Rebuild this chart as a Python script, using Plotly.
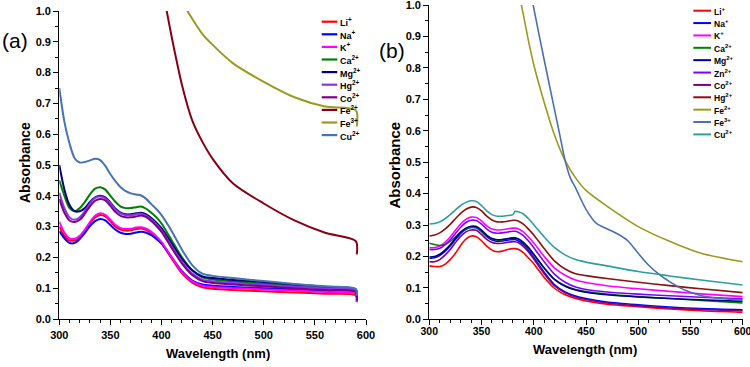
import plotly.graph_objects as go

W, H = 750, 367

# ---------------- Panel (a) data ----------------
WL_A = [300, 305, 310, 315, 320, 325, 330, 335, 340, 345, 350, 355, 360, 365, 370, 375, 380, 385, 390, 395, 400,
        410, 420, 430, 440, 450, 470, 500, 530, 560, 590, 591]
LI_A = [0.30, 0.27, 0.255, 0.255, 0.265, 0.285, 0.31, 0.33, 0.338, 0.333, 0.317, 0.30, 0.29, 0.287, 0.288, 0.292, 0.294, 0.289, 0.279, 0.264, 0.246,
        0.196, 0.148, 0.118, 0.103, 0.098, 0.094, 0.09, 0.086, 0.082, 0.077, 0.055]
NA_A = [0.285, 0.262, 0.247, 0.247, 0.26, 0.28, 0.302, 0.318, 0.325, 0.32, 0.305, 0.29, 0.28, 0.276, 0.277, 0.281, 0.283, 0.28, 0.272, 0.26, 0.245,
        0.2, 0.155, 0.125, 0.112, 0.108, 0.104, 0.1, 0.096, 0.092, 0.088, 0.06]
K_A = [0.315, 0.28, 0.262, 0.26, 0.27, 0.29, 0.315, 0.335, 0.343, 0.338, 0.322, 0.305, 0.295, 0.292, 0.293, 0.297, 0.298, 0.293, 0.283, 0.268, 0.25,
       0.2, 0.152, 0.122, 0.108, 0.104, 0.1, 0.096, 0.092, 0.088, 0.082, 0.06]
CA_A = [0.45, 0.40, 0.36, 0.35, 0.36, 0.38, 0.405, 0.423, 0.428, 0.42, 0.40, 0.38, 0.365, 0.36, 0.36, 0.363, 0.365, 0.358, 0.345, 0.33, 0.31,
        0.255, 0.2, 0.158, 0.135, 0.128, 0.122, 0.115, 0.108, 0.10, 0.092, 0.07]
MG_A = [0.50, 0.42, 0.37, 0.35, 0.35, 0.36, 0.38, 0.395, 0.40, 0.395, 0.378, 0.358, 0.345, 0.34, 0.34, 0.343, 0.345, 0.34, 0.328, 0.313, 0.295,
        0.245, 0.195, 0.158, 0.138, 0.133, 0.127, 0.12, 0.112, 0.105, 0.096, 0.07]
HG_A = [0.41, 0.36, 0.33, 0.322, 0.33, 0.35, 0.375, 0.393, 0.398, 0.392, 0.375, 0.355, 0.343, 0.337, 0.337, 0.34, 0.342, 0.336, 0.323, 0.307, 0.288,
        0.235, 0.185, 0.148, 0.128, 0.122, 0.117, 0.111, 0.105, 0.099, 0.092, 0.055]
CO_A = [0.39, 0.345, 0.32, 0.315, 0.322, 0.342, 0.366, 0.384, 0.39, 0.385, 0.367, 0.347, 0.335, 0.33, 0.33, 0.333, 0.336, 0.331, 0.318, 0.302, 0.283,
        0.23, 0.18, 0.143, 0.123, 0.117, 0.112, 0.106, 0.10, 0.094, 0.088, 0.06]
CU_A = [0.75, 0.64, 0.57, 0.522, 0.508, 0.51, 0.515, 0.52, 0.516, 0.497, 0.47, 0.447, 0.428, 0.415, 0.408, 0.404, 0.401, 0.39, 0.373, 0.357, 0.337,
        0.285, 0.225, 0.175, 0.147, 0.14, 0.133, 0.123, 0.114, 0.106, 0.098, 0.075]
WL_A_FE2 = [400, 410, 420, 430, 440, 450, 470, 500, 530, 560, 590, 591]
FE2_A = [1.09, 0.915, 0.76, 0.645, 0.575, 0.52, 0.44, 0.375, 0.32, 0.28, 0.253, 0.21]
WL_A_FE3 = [420, 430, 440, 450, 470, 500, 530, 560, 590, 591]
FE3_A = [1.03, 0.975, 0.925, 0.89, 0.83, 0.77, 0.72, 0.69, 0.678, 0.625]

NAMES_A = ["Li<sup>+</sup>", "Na<sup>+</sup>", "K<sup>+</sup>", "Ca<sup>2+</sup>", "Mg<sup>2+</sup>", "Hg<sup>2+</sup>",
           "Co<sup>2+</sup>", "Fe<sup>2+</sup>", "Fe<sup>3+</sup>", "Cu<sup>2+</sup>"]
COLORS_A = ["#FF0000", "#0000FF", "#FF00FF", "#008000", "#000080", "#8B30F0", "#800080", "#880015", "#9A9A1E", "#4573B5"]

# ---------------- Panel (b) data ----------------
WL_B = [300, 305, 310, 315, 320, 325, 330, 335, 340, 345, 350, 355, 360, 365, 370, 375, 380,
        382, 385, 390, 395, 400, 410, 420, 430, 440, 450, 470, 500, 530, 560, 600]
LI_B = [0.17, 0.168, 0.168, 0.175, 0.19, 0.21, 0.235, 0.255, 0.265, 0.263, 0.25, 0.233, 0.22, 0.215, 0.217, 0.222, 0.225,
        0.225, 0.223, 0.212, 0.195, 0.177, 0.133, 0.098, 0.078, 0.066, 0.058, 0.048, 0.04, 0.033, 0.027, 0.022]
NA_B = [0.194, 0.196, 0.203, 0.216, 0.233, 0.254, 0.273, 0.286, 0.292, 0.291, 0.279, 0.263, 0.252, 0.248, 0.249, 0.252, 0.254,
        0.254, 0.25, 0.238, 0.219, 0.197, 0.15, 0.11, 0.087, 0.074, 0.066, 0.055, 0.046, 0.039, 0.034, 0.03]
K_B = [0.228, 0.228, 0.233, 0.245, 0.262, 0.283, 0.303, 0.318, 0.325, 0.324, 0.313, 0.297, 0.287, 0.284, 0.285, 0.288, 0.29,
       0.29, 0.288, 0.278, 0.262, 0.243, 0.2, 0.163, 0.14, 0.125, 0.117, 0.107, 0.097, 0.089, 0.081, 0.072]
CA_B = [0.242, 0.238, 0.235, 0.238, 0.248, 0.262, 0.277, 0.288, 0.293, 0.292, 0.282, 0.266, 0.256, 0.252, 0.253, 0.256, 0.258,
        0.258, 0.255, 0.244, 0.227, 0.206, 0.163, 0.127, 0.107, 0.095, 0.088, 0.08, 0.072, 0.066, 0.06, 0.052]
MG_B = [0.198, 0.2, 0.207, 0.22, 0.237, 0.258, 0.277, 0.29, 0.296, 0.295, 0.284, 0.268, 0.257, 0.253, 0.254, 0.257, 0.259,
        0.259, 0.256, 0.245, 0.228, 0.207, 0.163, 0.126, 0.105, 0.093, 0.086, 0.078, 0.071, 0.066, 0.062, 0.057]
ZN_B = [0.222, 0.222, 0.226, 0.237, 0.253, 0.273, 0.293, 0.308, 0.315, 0.314, 0.303, 0.287, 0.277, 0.274, 0.275, 0.278, 0.28,
        0.28, 0.277, 0.266, 0.249, 0.228, 0.183, 0.143, 0.118, 0.103, 0.095, 0.087, 0.08, 0.075, 0.07, 0.065]
CO_B = [0.183, 0.183, 0.19, 0.204, 0.222, 0.244, 0.264, 0.278, 0.284, 0.283, 0.27, 0.254, 0.244, 0.241, 0.242, 0.245, 0.247,
        0.247, 0.244, 0.232, 0.214, 0.192, 0.145, 0.106, 0.084, 0.071, 0.063, 0.052, 0.043, 0.036, 0.031, 0.027]
HG_B = [0.265, 0.268, 0.275, 0.287, 0.302, 0.32, 0.337, 0.35, 0.357, 0.356, 0.345, 0.328, 0.316, 0.31, 0.31, 0.312, 0.315,
        0.315, 0.313, 0.303, 0.287, 0.268, 0.225, 0.185, 0.16, 0.145, 0.139, 0.13, 0.118, 0.107, 0.097, 0.085]
CU_B = [0.303, 0.305, 0.31, 0.32, 0.333, 0.348, 0.362, 0.372, 0.377, 0.375, 0.362, 0.345, 0.333, 0.328, 0.328, 0.33, 0.333,
        0.343, 0.342, 0.335, 0.32, 0.301, 0.262, 0.228, 0.205, 0.19, 0.182, 0.17, 0.152, 0.138, 0.125, 0.109]
WL_B_FE2 = [385, 390, 395, 400, 410, 420, 430, 440, 450, 470, 500, 530, 560, 600]
FE2_B = [1.05, 0.97, 0.885, 0.81, 0.69, 0.585, 0.505, 0.45, 0.41, 0.36, 0.295, 0.248, 0.21, 0.183]
WL_B_FE3 = [398, 400, 410, 420, 425, 430, 435, 440, 450, 460, 470, 480, 490, 500, 510, 520, 530, 540, 550, 560, 570, 580, 590, 600]
FE3_B = [1.03, 0.99, 0.825, 0.665, 0.585, 0.505, 0.45, 0.418, 0.35, 0.305, 0.288, 0.272, 0.25, 0.21, 0.172, 0.143, 0.12, 0.1,
         0.086, 0.076, 0.07, 0.066, 0.063, 0.061]

NAMES_B = ["Li<sup>+</sup>", "Na<sup>+</sup>", "K<sup>+</sup>", "Ca<sup>2+</sup>", "Mg<sup>2+</sup>", "Zn<sup>2+</sup>",
           "Co<sup>2+</sup>", "Hg<sup>2+</sup>", "Fe<sup>2+</sup>", "Fe<sup>3+</sup>", "Cu<sup>2+</sup>"]
COLORS_B = ["#FF0000", "#0000FF", "#FF00FF", "#008000", "#000080", "#8000FF", "#800080", "#8B1010", "#9A9A1E", "#4A6FB0", "#2E9E9E"]

SERIES_A = [(WL_A, LI_A), (WL_A, NA_A), (WL_A, K_A), (WL_A, CA_A), (WL_A, MG_A), (WL_A, HG_A),
            (WL_A, CO_A), (WL_A_FE2, FE2_A), (WL_A_FE3, FE3_A), (WL_A, CU_A)]
SERIES_B = [(WL_B, LI_B), (WL_B, NA_B), (WL_B, K_B), (WL_B, CA_B), (WL_B, MG_B), (WL_B, ZN_B),
            (WL_B, CO_B), (WL_B, HG_B), (WL_B_FE2, FE2_B), (WL_B_FE3, FE3_B), (WL_B, CU_B)]


def px(x):
    return x / W


def py(y):
    return 1 - y / H


fig = go.Figure()
for (x, y), name, c in zip(SERIES_A, NAMES_A, COLORS_A):
    fig.add_trace(go.Scatter(x=x, y=y, name=name, mode="lines", xaxis="x", yaxis="y",
                             line=dict(color=c, width=2, shape="spline", smoothing=0.8)))
for (x, y), name, c in zip(SERIES_B, NAMES_B, COLORS_B):
    fig.add_trace(go.Scatter(x=x, y=y, name=name, mode="lines", xaxis="x2", yaxis="y2",
                             line=dict(color=c, width=1.6, shape="spline", smoothing=0.8)))

FONT = "Liberation Sans, Arial, sans-serif"
tickfont = dict(family=FONT, size=11, color="black", weight="bold")

axis_common = dict(showline=True, linecolor="black", linewidth=1.3, ticks="outside", ticklen=5,
                   tickwidth=1.2, tickcolor="black", showgrid=False, zeroline=False,
                   mirror=False, automargin=False, ticklabeloverflow="allow")
minor_x = dict(dtick=10, ticks="outside", ticklen=3, tickcolor="black", tickwidth=1)
minor_y = dict(dtick=0.05, ticks="outside", ticklen=3, tickcolor="black", tickwidth=1)

fig.update_layout(
    width=W, height=H, margin=dict(l=0, r=0, t=0, b=0, autoexpand=False),
    paper_bgcolor="white", plot_bgcolor="white", showlegend=False,
    xaxis=dict(domain=[px(59.3), px(366)], range=[300, 600], dtick=50, anchor="y",
               minor=minor_x, ticklabelstandoff=1, tickfont=tickfont, **axis_common),
    yaxis=dict(domain=[py(319), py(11)], range=[0, 1.0], dtick=0.1, tickformat=".1f", anchor="x",
               minor=minor_y, tickfont=tickfont, **axis_common),
    xaxis2=dict(domain=[px(429.3), px(742.7)], range=[300, 600], dtick=50, anchor="y2",
                minor=minor_x, ticklabelstandoff=-3, tickfont=dict(tickfont, size=10.5), **axis_common),
    yaxis2=dict(domain=[py(319.3), py(5)], range=[0, 1.0], dtick=0.1, tickformat=".1f", anchor="x2",
                minor=minor_y, tickfont=tickfont, **axis_common),
)

shapes = []
annotations = []

# legends (drawn manually to match the compact spacing)
for i, (name, c) in enumerate(zip(NAMES_A, COLORS_A)):
    yy = 21.7 + 12.6 * i
    shapes.append(dict(type="line", xref="paper", yref="paper", x0=px(321.7), x1=px(337.3),
                       y0=py(yy), y1=py(yy), line=dict(color=c, width=2.2)))
    annotations.append(dict(xref="paper", yref="paper", x=px(338.3), y=py(yy + 0.5), text=name,
                            showarrow=False, xanchor="left", yanchor="middle",
                            font=dict(family=FONT, size=9, color="black", weight="bold")))
for i, (name, c) in enumerate(zip(NAMES_B, COLORS_B)):
    yy = 10.7 + 12.37 * i
    shapes.append(dict(type="line", xref="paper", yref="paper", x0=px(693.3), x1=px(711.0),
                       y0=py(yy), y1=py(yy), line=dict(color=c, width=2)))
    annotations.append(dict(xref="paper", yref="paper", x=px(712.0), y=py(yy + 0.5), text=name,
                            showarrow=False, xanchor="left", yanchor="middle",
                            font=dict(family=FONT, size=8.5, color="black", weight="bold")))

# axis titles and panel letters
title_font = dict(family=FONT, color="black", weight="bold")
annotations += [
    dict(xref="paper", yref="paper", x=px(25), y=py(163), text="Absorbance", textangle=-90,
         showarrow=False, xanchor="center", yanchor="middle", font=dict(size=14, **title_font)),
    dict(xref="paper", yref="paper", x=px(394.3), y=py(165.3), text="Absorbance", textangle=-90,
         showarrow=False, xanchor="center", yanchor="middle", font=dict(size=15, **title_font)),
    dict(xref="paper", yref="paper", x=px(218), y=py(353), text="Wavelength (nm)",
         showarrow=False, xanchor="center", yanchor="middle", font=dict(size=13, **title_font)),
    dict(xref="paper", yref="paper", x=px(585), y=py(349), text="Wavelength (nm)",
         showarrow=False, xanchor="center", yanchor="middle", font=dict(size=13, **title_font)),
    dict(xref="paper", yref="paper", x=px(0), y=py(40), text="(a)",
         showarrow=False, xanchor="left", yanchor="middle",
         font=dict(family=FONT, size=21, color="black")),
    dict(xref="paper", yref="paper", x=px(376.5), y=py(50), text="(b)",
         showarrow=False, xanchor="left", yanchor="middle",
         font=dict(family=FONT, size=21, color="black")),
]

fig.update_layout(shapes=shapes, annotations=annotations)
fig.write_html("out.html", config={"displayModeBar": False},
               post_script="document.body.style.margin='0';document.body.style.overflow='hidden';")
